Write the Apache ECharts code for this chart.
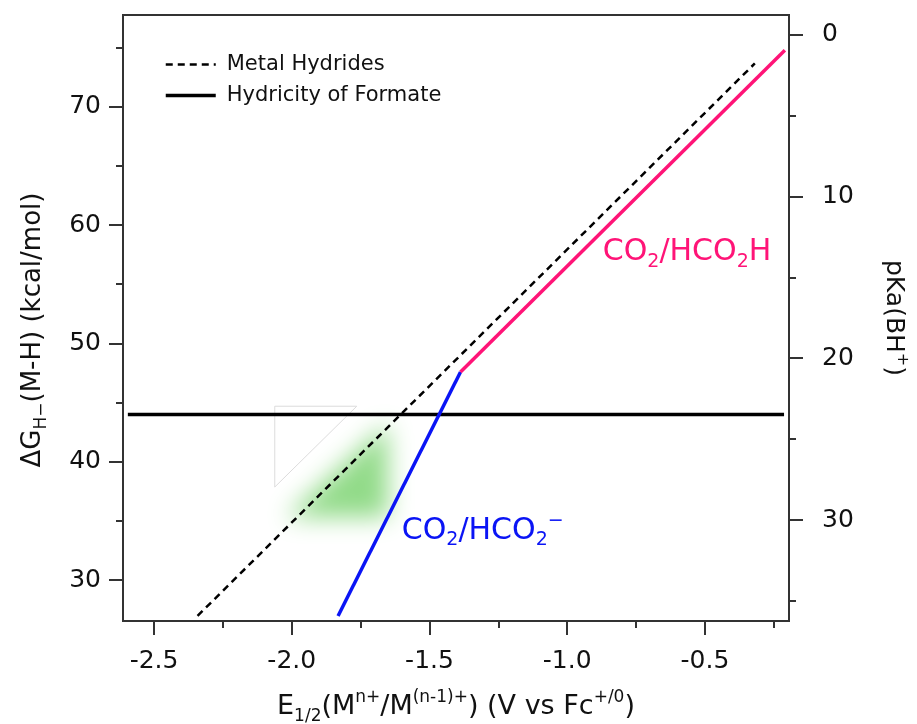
<!DOCTYPE html>
<html>
<head>
<meta charset="utf-8">
<script src="https://cdn.jsdelivr.net/npm/echarts@6/dist/echarts.min.js"></script>
<style>html,body{margin:0;padding:0;background:#fff}#main{width:917px;height:724px}</style>
</head>
<body>
<div id="main"></div>
<script>
var xTicks = [-2.5, -2.0, -1.5, -1.0, -0.5];
var leftTicks = [30, 40, 50, 60, 70];
var rightTicks = [0, 10, 20, 30];

// lines (E1/2 in V, dG in kcal/mol)
var hydrideX = [-2.342, -0.319];
var hydrideY = [26.97, 73.66];
var formateX = [-2.595, -0.213];
var formateY = [44, 44];
var anionX = [-1.832, -1.3875];
var anionY = [26.97, 47.58];
var acidX = [-1.3875, -0.21];
var acidY = [47.58, 74.78];

// shaded region + the white patch over it
var greenX = [-1.6514, -2.02, -1.6514];
var greenY = [43.2, 35.3, 35.3];
var maskX = [-2.0617, -1.764, -2.0617];
var maskY = [44.69, 44.69, 37.86];

var acidLabel = [-0.871, 57.67];
var anionLabel = [-1.6006, 34.15];

var font = 'DejaVu Sans';
var pink = '#ff1477';
var blue = '#0a14f5';

function zip(xs, ys) {
    return xs.map(function (x, i) { return [x, ys[i]]; });
}

function subsup(size) {
    return {
        sub: { fontSize: size, lineHeight: size, verticalAlign: 'bottom', fontFamily: font },
        sup: { fontSize: size, lineHeight: size, verticalAlign: 'top', fontFamily: font }
    };
}

var myChart = echarts.init(document.getElementById('main'));
myChart.setOption({
    animation: false,
    grid: {
        left: 123, right: 128, top: 15, bottom: 103,
        outerBoundsMode: 'none',
        show: true, borderColor: '#333', borderWidth: 2
    },
    legend: {
        orient: 'vertical',
        left: 159, top: 49,
        itemWidth: 50, itemHeight: 14, itemGap: 10,
        itemStyle: { opacity: 0 },
        data: [
            { name: 'Metal Hydrides', lineStyle: { width: 2.5, type: [7, 5], color: '#000' } },
            { name: 'Hydricity of Formate', lineStyle: { width: 3.5, color: '#000' } }
        ],
        textStyle: { fontFamily: font, fontSize: 21, color: '#111', padding: [0, 0, 0, 6] }
    },
    xAxis: {
        type: 'value',
        min: -2.6126, max: -0.195,
        splitLine: { show: false },
        axisLine: { onZero: false, lineStyle: { color: '#333', width: 2 } },
        axisTick: { length: 14, lineStyle: { color: '#333', width: 2 }, customValues: xTicks },
        minorTick: { show: true, splitNumber: 2, length: 7, lineStyle: { color: '#333', width: 2 } },
        axisLabel: {
            customValues: xTicks, margin: 28,
            fontFamily: font, fontSize: 25, color: '#111',
            formatter: function (v) { return v.toFixed(1); }
        },
        name: 'E{sub|1/2}(M{sup|n+}/M{sup|(n-1)+}) (V vs Fc{sup|+/0})',
        nameLocation: 'middle', nameGap: 68,
        nameTextStyle: { fontFamily: font, fontSize: 27, color: '#111', lineHeight: 36, rich: subsup(17) }
    },
    yAxis: [{
        type: 'value',
        min: 26.54, max: 77.75,
        splitLine: { show: false },
        axisLine: { onZero: false, lineStyle: { color: '#333', width: 2 } },
        axisTick: { length: 14, lineStyle: { color: '#333', width: 2 }, customValues: leftTicks },
        minorTick: { show: true, splitNumber: 2, length: 7, lineStyle: { color: '#333', width: 2 } },
        axisLabel: { customValues: leftTicks, margin: 22, fontFamily: font, fontSize: 25, color: '#111' },
        name: '\u0394G{sub|H\u2212}(M-H) (kcal/mol)',
        nameLocation: 'middle', nameGap: 73,
        nameTextStyle: { fontFamily: font, fontSize: 26, color: '#111', lineHeight: 34, padding: [0, 24, 0, 0], rich: subsup(17) }
    }, {
        type: 'value',
        position: 'right',
        inverse: true,
        min: -1.21, max: 36.24,
        splitLine: { show: false },
        axisLine: { show: true, onZero: false, lineStyle: { color: '#333', width: 2 } },
        axisTick: { show: true, length: 14, lineStyle: { color: '#333', width: 2 }, customValues: rightTicks },
        minorTick: { show: true, splitNumber: 2, length: 7, lineStyle: { color: '#333', width: 2 } },
        axisLabel: { customValues: rightTicks, margin: 33, fontFamily: font, fontSize: 25, color: '#111' },
        name: 'pKa(BH{sup|+})',
        nameLocation: 'middle', nameGap: 87, nameRotate: -90,
        nameTextStyle: { fontFamily: font, fontSize: 25, color: '#111', lineHeight: 34, rich: subsup(16) }
    }],
    series: [{
        type: 'custom',
        name: 'region',
        z: 1,
        clip: false,
        silent: true,
        data: [[greenX[0], greenY[0]]],
        renderItem: function (params, api) {
            var pts = greenX.map(function (x, i) {
                var p = api.coord([x, greenY[i]]);
                return [p[0] + 3000, p[1]];
            });
            return {
                type: 'polygon',
                shape: { points: pts },
                style: { fill: '#92db89', shadowBlur: 24, shadowColor: '#92db89', shadowOffsetX: -3000 }
            };
        }
    }, {
        type: 'custom',
        name: 'mask',
        z: 2,
        silent: true,
        data: [[maskX[0], maskY[0]]],
        renderItem: function (params, api) {
            var pts = maskX.map(function (x, i) { return api.coord([x, maskY[i]]); });
            return {
                type: 'polygon',
                shape: { points: pts },
                style: { fill: '#fff', stroke: '#dcdcdc', lineWidth: 1 }
            };
        }
    }, {
        name: 'Metal Hydrides',
        type: 'line',
        z: 4,
        symbol: 'none',
        data: zip(hydrideX, hydrideY),
        lineStyle: { color: '#000', width: 2.5, type: [7, 5] },
        itemStyle: { color: '#000' }
    }, {
        name: 'Hydricity of Formate',
        type: 'line',
        z: 4,
        symbol: 'none',
        data: zip(formateX, formateY),
        lineStyle: { color: '#000', width: 3.5 },
        itemStyle: { color: '#000' }
    }, {
        name: 'CO2/HCO2-',
        type: 'line',
        z: 5,
        symbol: 'none',
        data: zip(anionX, anionY),
        lineStyle: { color: blue, width: 3.5 }
    }, {
        name: 'CO2/HCO2H',
        type: 'line',
        z: 5,
        symbol: 'none',
        data: zip(acidX, acidY),
        lineStyle: { color: pink, width: 3.5 }
    }, {
        name: 'labels',
        type: 'scatter',
        z: 6,
        symbolSize: 0,
        silent: true,
        itemStyle: { opacity: 1 },
        data: [
            { value: acidLabel, label: { formatter: 'CO{s|2}/HCO{s|2}H', color: pink } },
            { value: anionLabel, label: { formatter: 'CO{s|2}/HCO{s|2}{p|\u2212}', color: blue } }
        ],
        label: {
            show: true, position: 'right', distance: 0,
            fontFamily: font, fontSize: 30, lineHeight: 38,
            rich: {
                s: { fontSize: 19, lineHeight: 19, verticalAlign: 'bottom', fontFamily: font },
                p: { fontSize: 19, lineHeight: 19, verticalAlign: 'top', fontFamily: font }
            }
        }
    }]
});
</script>
</body>
</html>
